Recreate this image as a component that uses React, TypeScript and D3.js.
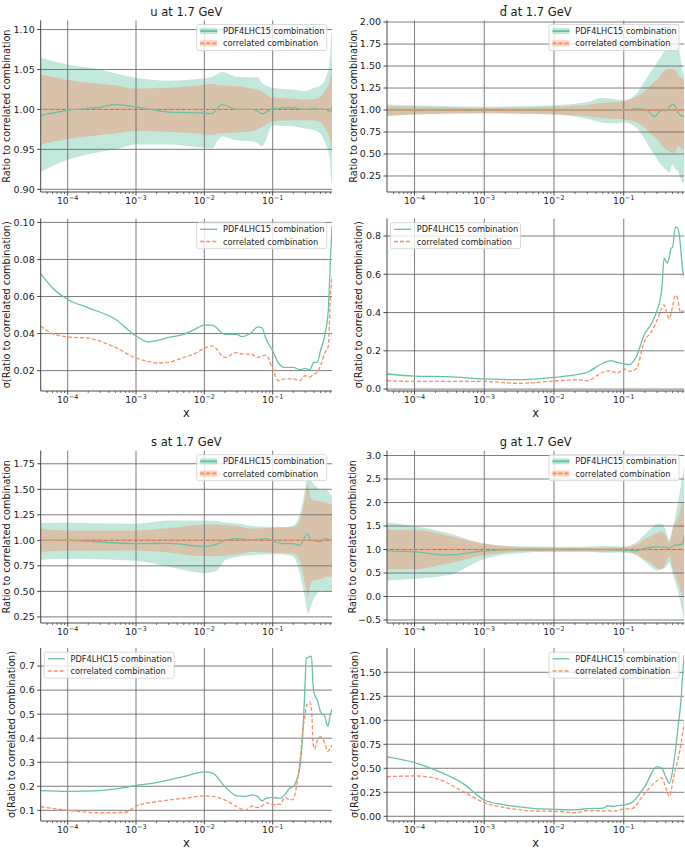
import React from 'react';
import * as d3 from 'd3';

const GREEN = '#66c2a5';
const ORANGE = '#fc8d62';
const FONT = 'DejaVu Sans';

const X_MIN = 4.03e-5;
const X_MAX = 0.738;
const DECADES = [1e-4, 1e-3, 1e-2, 1e-1];
const DECADE_EXP = ['−4', '−3', '−2', '−1'];
const LEGEND_LABELS = ['PDF4LHC15 combination', 'correlated combination'];
const TITLES = ['u at 1.7 GeV', 'd\u0304 at 1.7 GeV', 's at 1.7 GeV', 'g at 1.7 GeV'];

// ---------- u ratio ----------
const U_X = [4.03e-5, 1e-4, 3e-4, 5e-4, 1e-3, 3e-3, 1e-2, 1.3e-2, 1.6e-2, 1.8e-2, 3e-2, 5e-2, 6e-2, 7e-2, 0.1, 0.2, 0.3, 0.4, 0.5, 0.6, 0.68, 0.72, 0.738];
const U_G_HI = [1.0646, 1.056, 1.05, 1.045, 1.0396, 1.036, 1.039, 1.041, 1.045, 1.047, 1.041, 1.04, 1.041, 1.033, 1.027, 1.0246, 1.023, 1.027, 1.03, 1.04, 1.06, 1.09, 1.1];
const U_G_LO = [0.9217, 0.937, 0.9467, 0.95, 0.956, 0.956, 0.952, 0.951, 0.962, 0.966, 0.961, 0.96, 0.958, 0.954, 0.98, 0.979, 0.976, 0.974, 0.97, 0.955, 0.94, 0.912, 0.905];
const U_O_HI = [1.0437, 1.037, 1.032, 1.03, 1.026, 1.027, 1.031, 1.032, 1.03, 1.03, 1.029, 1.026, 1.025, 1.022, 1.0146, 1.0135, 1.012, 1.013, 1.016, 1.025, 1.035, 1.045, 1.05];
const U_O_LO = [0.956, 0.963, 0.968, 0.97, 0.973, 0.972, 0.969, 0.968, 0.97, 0.97, 0.971, 0.973, 0.975, 0.978, 0.985, 0.9865, 0.9865, 0.986, 0.984, 0.975, 0.965, 0.955, 0.95];
const U_G_MID = [0.9925, 0.9987, 1.003, 1.006, 1.003, 0.9967, 0.9955, 0.9946, 1.003, 1.006, 1.0, 1.0, 0.998, 0.9946, 1.001, 1.002, 1.0, 1.001, 1.0, 1.0, 0.997, 0.998, 1.0046];

// ---------- dbar ratio ----------
const D_X = [4.03e-5, 1e-4, 1e-3, 1e-2, 3e-2, 5e-2, 8e-2, 0.1, 0.15, 0.2, 0.25, 0.28, 0.3, 0.35, 0.4, 0.45, 0.5, 0.55, 0.6, 0.65, 0.7, 0.738];
const D_G_HI = [1.064, 1.053, 1.038, 1.053, 1.09, 1.14, 1.12, 1.11, 1.178, 1.33, 1.45, 1.5, 1.54, 1.62, 1.69, 1.75, 1.84, 1.88, 1.75, 1.6, 1.45, 1.38];
const D_G_LO = [0.93, 0.95, 0.962, 0.95, 0.9, 0.856, 0.85, 0.86, 0.8, 0.667, 0.54, 0.48, 0.44, 0.37, 0.326, 0.29, 0.38, 0.33, 0.3, 0.22, 0.17, 0.17];
const D_O_HI = [1.04, 1.038, 1.026, 1.038, 1.06, 1.083, 1.09, 1.1, 1.15, 1.216, 1.29, 1.33, 1.35, 1.41, 1.46, 1.47, 1.47, 1.45, 1.405, 1.37, 1.35, 1.34];
const D_O_LO = [0.94, 0.95, 0.962, 0.95, 0.93, 0.91, 0.9, 0.894, 0.86, 0.8, 0.72, 0.69, 0.667, 0.6, 0.553, 0.53, 0.515, 0.52, 0.59, 0.57, 0.553, 0.55];
const D_G_MID = [1.0, 1.0, 1.0, 1.0, 1.0, 1.0, 1.0, 0.995, 1.015, 1.01, 0.95, 0.924, 0.95, 1.0, 0.99, 1.03, 1.064, 1.04, 0.97, 0.94, 0.93, 0.93];

// ---------- s ratio ----------
const S_X = [4.03e-5, 1e-4, 1e-3, 3e-3, 1e-2, 1.5e-2, 2e-2, 3e-2, 5e-2, 8e-2, 0.1, 0.15, 0.2, 0.25, 0.28, 0.3, 0.33, 0.36, 0.4, 0.45, 0.5, 0.6, 0.7, 0.738];
const S_G_HI = [1.169, 1.172, 1.162, 1.195, 1.195, 1.19, 1.175, 1.165, 1.14, 1.135, 1.13, 1.13, 1.145, 1.26, 1.4, 1.52, 1.68, 1.6, 1.55, 1.52, 1.49, 1.5, 1.45, 1.45];
const S_G_LO = [0.81, 0.82, 0.8, 0.74, 0.68, 0.7, 0.805, 0.84, 0.854, 0.86, 0.864, 0.86, 0.84, 0.675, 0.52, 0.416, 0.286, 0.35, 0.43, 0.48, 0.51, 0.5, 0.497, 0.497];
const S_O_HI = [1.114, 1.097, 1.097, 1.12, 1.156, 1.155, 1.15, 1.14, 1.114, 1.12, 1.123, 1.125, 1.13, 1.195, 1.33, 1.44, 1.545, 1.42, 1.39, 1.39, 1.38, 1.37, 1.35, 1.35];
const S_O_LO = [0.886, 0.9, 0.9, 0.88, 0.844, 0.845, 0.85, 0.86, 0.886, 0.88, 0.877, 0.875, 0.87, 0.805, 0.66, 0.56, 0.455, 0.58, 0.61, 0.61, 0.62, 0.643, 0.643, 0.64];
const S_G_MID = [1.0, 1.0, 0.967, 0.97, 0.94, 0.96, 1.0, 1.016, 1.0, 1.016, 0.994, 0.967, 0.967, 0.95, 1.0, 1.04, 1.065, 1.0, 0.994, 0.99, 0.984, 1.02, 1.0, 1.0];

// ---------- g ratio ----------
const G_X = [4.03e-5, 1e-4, 3e-4, 1e-3, 3e-3, 1e-2, 3e-2, 5e-2, 0.1, 0.15, 0.2, 0.25, 0.3, 0.35, 0.4, 0.45, 0.5, 0.6, 0.7, 0.738];
const G_G_HI = [1.58, 1.5, 1.35, 1.12, 1.07, 1.06, 1.06, 1.08, 1.06, 1.15, 1.32, 1.45, 1.55, 1.55, 1.42, 1.2, 1.45, 2.0, 2.6, 2.8];
const G_G_LO = [0.34, 0.38, 0.45, 0.8, 0.92, 0.95, 0.95, 0.93, 0.93, 0.88, 0.75, 0.62, 0.55, 0.58, 0.62, 0.72, 0.5, 0.1, -0.35, -0.5];
const G_O_HI = [1.42, 1.42, 1.3, 1.13, 1.05, 1.04, 1.04, 1.04, 1.05, 1.1, 1.22, 1.3, 1.35, 1.38, 1.3, 1.15, 1.4, 1.7, 2.0, 2.05];
const G_O_LO = [0.58, 0.58, 0.7, 0.88, 0.95, 0.96, 0.96, 0.96, 0.95, 0.9, 0.78, 0.7, 0.6, 0.58, 0.7, 0.85, 0.6, 0.3, 0.0, -0.05];
const G_G_MID = [0.97, 0.95, 0.88, 0.97, 1.0, 1.0, 1.0, 1.0, 0.99, 0.97, 1.03, 1.05, 1.06, 1.05, 1.05, 1.02, 1.07, 1.1, 1.12, 1.3];

// ---------- u sigma ----------
const US_X = [4.03e-5, 6e-5, 1e-4, 2e-4, 5e-4, 1e-3, 1.5e-3, 2e-3, 3e-3, 5e-3, 7e-3, 1e-2, 1.3e-2, 2e-2, 3e-2, 3.5e-2, 5e-2, 6e-2, 7e-2, 8e-2, 0.1, 0.12, 0.15, 0.2, 0.25, 0.3, 0.35, 0.4, 0.45, 0.5, 0.6, 0.65, 0.7, 0.738];
const US_G = [0.0723, 0.0646, 0.0584, 0.0539, 0.0477, 0.0387, 0.0355, 0.0362, 0.0379, 0.0396, 0.042, 0.0446, 0.0445, 0.0396, 0.0396, 0.0384, 0.0409, 0.0436, 0.043, 0.037, 0.0307, 0.0245, 0.0218, 0.0218, 0.0205, 0.0212, 0.0205, 0.0245, 0.0245, 0.0307, 0.042, 0.052, 0.08, 0.098];
const US_O = [0.0441, 0.04, 0.0382, 0.0375, 0.0325, 0.0268, 0.025, 0.0241, 0.0245, 0.0271, 0.0289, 0.032, 0.0334, 0.0271, 0.0298, 0.029, 0.0287, 0.027, 0.028, 0.0284, 0.0209, 0.0146, 0.0155, 0.0155, 0.0146, 0.0173, 0.0165, 0.0182, 0.019, 0.0227, 0.0307, 0.033, 0.06, 0.0709];

// ---------- dbar sigma ----------
const DS_X = [4.03e-5, 1e-4, 3e-4, 1e-3, 3e-3, 1e-2, 2e-2, 3e-2, 5e-2, 6.5e-2, 8e-2, 0.1, 0.12, 0.15, 0.2, 0.25, 0.3, 0.35, 0.38, 0.42, 0.45, 0.48, 0.5, 0.55, 0.6, 0.65, 0.7, 0.738];
const DS_G = [0.079, 0.068, 0.065, 0.053, 0.049, 0.061, 0.074, 0.088, 0.135, 0.149, 0.14, 0.1316, 0.128, 0.167, 0.289, 0.342, 0.412, 0.518, 0.684, 0.658, 0.69, 0.737, 0.74, 0.847, 0.84, 0.75, 0.62, 0.59];
const DS_O = [0.044, 0.04, 0.04, 0.04, 0.03, 0.042, 0.049, 0.044, 0.088, 0.096, 0.082, 0.105, 0.093, 0.105, 0.254, 0.3, 0.36, 0.42, 0.44, 0.39, 0.368, 0.4, 0.43, 0.49, 0.465, 0.4, 0.41, 0.4];

// ---------- s sigma ----------
const SS_X = [4.03e-5, 1e-4, 3e-4, 7e-4, 1e-3, 2e-3, 3e-3, 5e-3, 1e-2, 1.3e-2, 2e-2, 3e-2, 4e-2, 5e-2, 6e-2, 7e-2, 8e-2, 0.1, 0.13, 0.15, 0.18, 0.2, 0.22, 0.25, 0.28, 0.3, 0.31, 0.33, 0.35, 0.37, 0.39, 0.41, 0.45, 0.5, 0.58, 0.64, 0.7, 0.738];
const SS_G = [0.182, 0.179, 0.182, 0.195, 0.204, 0.215, 0.226, 0.24, 0.26, 0.256, 0.199, 0.16, 0.158, 0.164, 0.158, 0.139, 0.15, 0.154, 0.15, 0.165, 0.194, 0.198, 0.22, 0.28, 0.45, 0.65, 0.735, 0.735, 0.74, 0.74, 0.62, 0.58, 0.56, 0.51, 0.49, 0.45, 0.5, 0.52];
const SS_O = [0.115, 0.1, 0.09, 0.092, 0.118, 0.136, 0.143, 0.15, 0.16, 0.158, 0.143, 0.115, 0.1, 0.118, 0.112, 0.118, 0.132, 0.124, 0.125, 0.154, 0.143, 0.145, 0.19, 0.3, 0.45, 0.5, 0.53, 0.545, 0.55, 0.52, 0.38, 0.355, 0.39, 0.405, 0.38, 0.345, 0.36, 0.372];

// ---------- g sigma ----------
const GS_X = [4.03e-5, 1e-4, 2e-4, 5e-4, 1e-3, 2e-3, 5e-3, 1e-2, 2e-2, 3e-2, 5e-2, 6e-2, 7e-2, 8e-2, 0.1, 0.13, 0.2, 0.3, 0.35, 0.4, 0.45, 0.52, 0.61, 0.66, 0.71, 0.738];
const GS_G = [0.62, 0.56, 0.48, 0.34, 0.17, 0.118, 0.083, 0.073, 0.066, 0.08, 0.085, 0.11, 0.1, 0.11, 0.118, 0.142, 0.31, 0.517, 0.5, 0.41, 0.344, 0.55, 0.97, 1.2, 1.55, 1.68];
const GS_O = [0.413, 0.42, 0.396, 0.257, 0.142, 0.09, 0.056, 0.052, 0.038, 0.06, 0.055, 0.06, 0.049, 0.06, 0.076, 0.08, 0.24, 0.37, 0.4, 0.3, 0.205, 0.41, 0.62, 0.75, 0.9, 0.97];

// ---------- tick values ----------
const U_RATIO_TICKS = [0.9, 0.95, 1.0, 1.05, 1.1];
const D_RATIO_TICKS = [0.25, 0.5, 0.75, 1.0, 1.25, 1.5, 1.75, 2.0];
const S_RATIO_TICKS = [0.25, 0.5, 0.75, 1.0, 1.25, 1.5, 1.75];
const G_RATIO_TICKS = [-0.5, 0.0, 0.5, 1.0, 1.5, 2.0, 2.5, 3.0];
const U_SIG_TICKS = [0.02, 0.04, 0.06, 0.08, 0.1];
const D_SIG_TICKS = [0.0, 0.2, 0.4, 0.6, 0.8];
const S_SIG_TICKS = [0.1, 0.2, 0.3, 0.4, 0.5, 0.6, 0.7];
const G_SIG_TICKS = [0.0, 0.25, 0.5, 0.75, 1.0, 1.25, 1.5];

const COLS = [{ x0: 40.7, x1: 332 }, { x0: 387, x1: 684.3 }];
const ROWS = [{ y0: 20.3, y1: 192 }, { y0: 218.5, y1: 391 }, { y0: 450.5, y1: 623 }, { y0: 648, y1: 821 }];

type Panel = {
  kind: 'ratio' | 'sigma';
  col: number; row: number;
  title?: string;
  yDomain: [number, number];
  ticks: number[];
  fmt: string;
  legend: 'left' | 'right';
  labelX: number;
  xs: number[];
  g: number[]; gLo?: number[]; gHi?: number[]; oLo?: number[]; oHi?: number[]; o?: number[];
};

const PANELS: Panel[] = [
  { kind: 'ratio', col: 0, row: 0, title: TITLES[0], yDomain: [0.8966, 1.1116], ticks: U_RATIO_TICKS, fmt: '.2f', legend: 'right', labelX: 10, xs: U_X, g: U_G_MID, gLo: U_G_LO, gHi: U_G_HI, oLo: U_O_LO, oHi: U_O_HI },
  { kind: 'ratio', col: 1, row: 0, title: TITLES[1], yDomain: [0.068, 2.02], ticks: D_RATIO_TICKS, fmt: '.2f', legend: 'right', labelX: 356.5, xs: D_X, g: D_G_MID, gLo: D_G_LO, gHi: D_G_HI, oLo: D_O_LO, oHi: D_O_HI },
  { kind: 'sigma', col: 0, row: 1, yDomain: [0.009, 0.1021], ticks: U_SIG_TICKS, fmt: '.2f', legend: 'right', labelX: 9.5, xs: US_X, g: US_G, o: US_O },
  { kind: 'sigma', col: 1, row: 1, yDomain: [-0.01, 0.8916], ticks: D_SIG_TICKS, fmt: '.1f', legend: 'left', labelX: 362, xs: DS_X, g: DS_G, o: DS_O },
  { kind: 'ratio', col: 0, row: 2, title: TITLES[2], yDomain: [0.19, 1.88], ticks: S_RATIO_TICKS, fmt: '.2f', legend: 'right', labelX: 10, xs: S_X, g: S_G_MID, gLo: S_G_LO, gHi: S_G_HI, oLo: S_O_LO, oHi: S_O_HI },
  { kind: 'ratio', col: 1, row: 2, title: TITLES[3], yDomain: [-0.564, 3.107], ticks: G_RATIO_TICKS, fmt: '.1f', legend: 'right', labelX: 355.5, xs: G_X, g: G_G_MID, gLo: G_G_LO, gHi: G_G_HI, oLo: G_O_LO, oHi: G_O_HI },
  { kind: 'sigma', col: 0, row: 3, yDomain: [0.0556, 0.775], ticks: S_SIG_TICKS, fmt: '.1f', legend: 'left', labelX: 14.5, xs: SS_X, g: SS_G, o: SS_O },
  { kind: 'sigma', col: 1, row: 3, yDomain: [-0.049, 1.753], ticks: G_SIG_TICKS, fmt: '.2f', legend: 'right', labelX: 357.5, xs: GS_X, g: GS_G, o: GS_O },
];

const MINOR: number[] = [];
for (let e = -5; e <= -1; e++) for (let m = 2; m <= 9; m++) {
  const v = m * Math.pow(10, e);
  if (v >= X_MIN && v <= X_MAX) MINOR.push(v);
}

const GRID = '#6e6e6e';
const SPINE = '#333';
const TXT = '#1a1a1a';

function PanelView({ p, idx }: { p: Panel; idx: number }) {
  const { x0, x1 } = COLS[p.col];
  const { y0, y1 } = ROWS[p.row];
  const xs = d3.scaleLog().domain([X_MIN, X_MAX]).range([x0, x1]);
  const ys = d3.scaleLinear().domain(p.yDomain).range([y1, y0]);
  const fmt = d3.format(p.fmt);
  const clipId = `clip${idx}`;
  const pts = p.xs.map((x, i) => i);
  const area = (lo: number[], hi: number[]) =>
    d3.area<number>().x(i => xs(p.xs[i])).y0(i => ys(lo[i])).y1(i => ys(hi[i])).curve(d3.curveMonotoneX)(pts) || '';
  const line = (v: number[]) =>
    d3.line<number>().x(i => xs(p.xs[i])).y(i => ys(v[i])).curve(d3.curveMonotoneX)(pts) || '';
  const cx = (x0 + x1) / 2;
  const cy = (y0 + y1) / 2;
  const isSigma = p.kind === 'sigma';
  const ylabel = isSigma ? 'σ(Ratio to correlated combination)' : 'Ratio to correlated combination';

  const lw = 130, lh = 26;
  const lx = p.legend === 'right' ? x1 - 5.3 - lw : x0 + 3.5;
  const ly = y0 + 4.2;

  return (
    <g>
      <defs>
        <clipPath id={clipId}><rect x={x0} y={y0} width={x1 - x0} height={y1 - y0} /></clipPath>
      </defs>
      <g clipPath={`url(#${clipId})`}>
        {!isSigma && (
          <>
            <path d={area(p.gLo!, p.gHi!)} fill={GREEN} fillOpacity={0.4} />
            <path d={area(p.oLo!, p.oHi!)} fill={ORANGE} fillOpacity={0.4} />
          </>
        )}
        {p.ticks.map(t => (
          <line key={'h' + t} x1={x0} x2={x1} y1={ys(t)} y2={ys(t)} stroke={GRID} strokeWidth={0.9} />
        ))}
        {DECADES.map(d => (
          <line key={'v' + d} x1={xs(d)} x2={xs(d)} y1={y0} y2={y1} stroke={GRID} strokeWidth={0.9} />
        ))}
        <path d={line(p.g)} fill="none" stroke={GREEN} strokeWidth={1.3} />
        {isSigma ? (
          <path d={line(p.o!)} fill="none" stroke={ORANGE} strokeWidth={1.3} strokeDasharray="4,2" />
        ) : (
          <line x1={xs(X_MIN)} x2={xs(X_MAX)} y1={ys(1)} y2={ys(1)} stroke={ORANGE} strokeWidth={1.3} strokeDasharray="4,2" />
        )}
      </g>
      {/* spines */}
      <line x1={x0} x2={x0} y1={y0} y2={y1} stroke={SPINE} strokeWidth={0.9} />
      <line x1={x0} x2={x1} y1={y1} y2={y1} stroke={SPINE} strokeWidth={0.9} />
      {/* y ticks */}
      {p.ticks.map(t => (
        <g key={'yt' + t}>
          <line x1={x0 - 3.5} x2={x0} y1={ys(t)} y2={ys(t)} stroke={SPINE} strokeWidth={0.9} />
          <text x={x0 - 6} y={ys(t) + 3.4} textAnchor="end" fontSize={9.5} fill={TXT} fontFamily={FONT}>
            {fmt(t).replace('-', '−')}
          </text>
        </g>
      ))}
      {/* x ticks */}
      {DECADES.map((d, i) => (
        <g key={'xt' + d}>
          <line x1={xs(d)} x2={xs(d)} y1={y1} y2={y1 + 3.5} stroke={SPINE} strokeWidth={0.9} />
          <text x={xs(d)} y={y1 + 12} textAnchor="middle" fontSize={9.2} fill={TXT} fontFamily={FONT}>
            10<tspan fontSize={6.5} dy={-3.8}>{DECADE_EXP[i]}</tspan>
          </text>
        </g>
      ))}
      {MINOR.map(m => (
        <line key={'mt' + m} x1={xs(m)} x2={xs(m)} y1={y1} y2={y1 + 2} stroke={SPINE} strokeWidth={0.7} />
      ))}
      {/* labels */}
      {p.title && (
        <text x={cx} y={y0 - 4.2} textAnchor="middle" fontSize={11.5} fill={TXT} fontFamily={FONT}>{p.title}</text>
      )}
      <text transform={`translate(${p.labelX},${cy}) rotate(-90)`} textAnchor="middle" fontSize={9.7} fill={TXT} fontFamily={FONT}>{ylabel}</text>
      {isSigma && (
        <text x={cx} y={y1 + 25.5} textAnchor="middle" fontSize={11.5} fill={TXT} fontFamily={FONT}>x</text>
      )}
      {/* legend */}
      <g>
        <rect x={lx} y={ly} width={lw} height={lh} rx={2} fill="#fff" fillOpacity={0.8} stroke="#d0d0d0" strokeWidth={0.8} />
        {LEGEND_LABELS.map((lab, i) => {
          const ry = ly + 6.6 + i * 12.2;
          const hx0 = lx + 3.5, hx1 = lx + 20.5;
          const col = i === 0 ? GREEN : ORANGE;
          return (
            <g key={lab}>
              {!isSigma && <rect x={hx0} y={ry - 3} width={hx1 - hx0} height={6} fill={col} fillOpacity={0.4} />}
              <line x1={hx0} x2={hx1} y1={ry} y2={ry} stroke={col} strokeWidth={isSigma ? 1.3 : 1.8} strokeDasharray={i === 1 ? '4,2' : undefined} />
              <text x={lx + 26.3} y={ry + 3} fontSize={8.2} fill={TXT} fontFamily={FONT}>{lab}</text>
            </g>
          );
        })}
      </g>
    </g>
  );
}

export default function App() {
  return (
    <svg width={685} height={851} style={{ position: 'absolute', left: 0, top: 0, background: '#fff' }}>
      <rect x={0} y={0} width={685} height={851} fill="#fff" />
      {PANELS.map((p, i) => <PanelView key={i} p={p} idx={i} />)}
    </svg>
  );
}
